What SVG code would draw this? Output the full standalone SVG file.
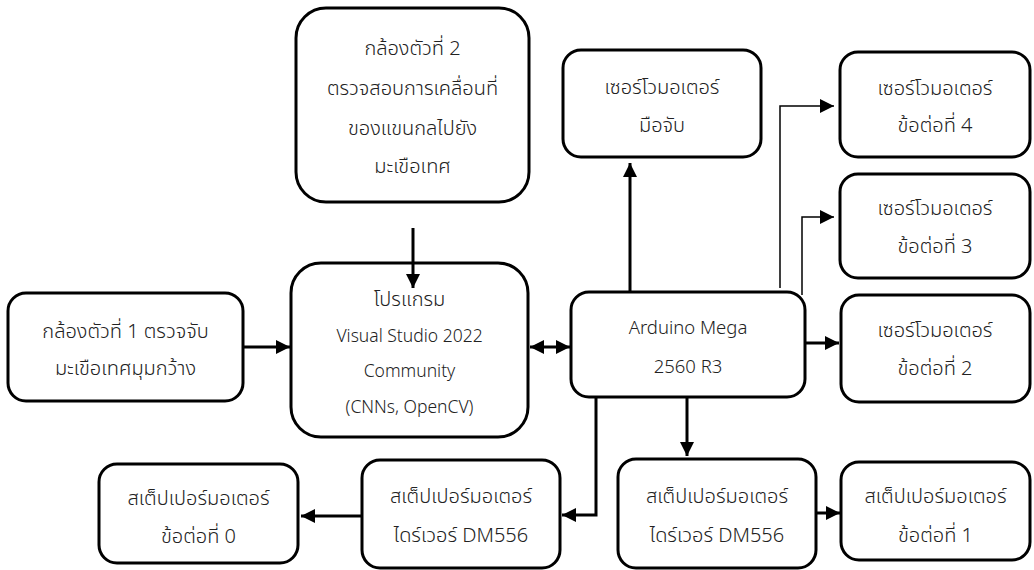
<svg xmlns="http://www.w3.org/2000/svg" width="1034" height="570" viewBox="0 0 1034 570">
<style>
.box{fill:#fff;stroke:#000;stroke-width:3}
.t{font-family:"Noto Sans","Noto Sans Thai","Open Sans",sans-serif;font-size:20px;font-weight:300;fill:#222;text-anchor:middle}
.l{font-size:17.5px}
.c{fill:none;stroke:#000;stroke-width:3}
.thin{fill:none;stroke:#000;stroke-width:1.5}
</style>
<defs>
<marker id="ah" viewBox="0 0 14 14" refX="14" refY="7" markerWidth="14" markerHeight="14" markerUnits="userSpaceOnUse" orient="auto-start-reverse">
<path d="M0,0 L14,7 L0,14 z" fill="#000"/>
</marker>
</defs>
<rect width="1034" height="570" fill="#fff"/>
<g id="camera2">
<rect class="box" x="296" y="8" width="233" height="194" rx="30"/>
<text class="t" x="412.5" y="55">กล้องตัวที่ 2</text>
<text class="t" x="412.5" y="95">ตรวจสอบการเคลื่อนที่</text>
<text class="t" x="412.5" y="135">ของแขนกลไปยัง</text>
<text class="t" x="412.5" y="173">มะเขือเทศ</text>
</g>
<g id="servo-gripper">
<rect class="box" x="563" y="50" width="198" height="107" rx="18"/>
<text class="t" x="662" y="94">เซอร์โวมอเตอร์</text>
<text class="t" x="662" y="132">มือจับ</text>
</g>
<g id="servo4">
<rect class="box" x="840" y="52" width="190" height="105" rx="18"/>
<text class="t" x="935" y="95">เซอร์โวมอเตอร์</text>
<text class="t" x="935" y="132">ข้อต่อที่ 4</text>
</g>
<g id="servo3">
<rect class="box" x="840" y="174" width="190" height="104" rx="18"/>
<text class="t" x="935" y="215">เซอร์โวมอเตอร์</text>
<text class="t" x="935" y="253">ข้อต่อที่ 3</text>
</g>
<g id="servo2">
<rect class="box" x="841" y="295" width="189" height="107" rx="18"/>
<text class="t" x="935" y="337">เซอร์โวมอเตอร์</text>
<text class="t" x="935" y="375">ข้อต่อที่ 2</text>
</g>
<g id="camera1">
<rect class="box" x="8" y="293" width="235" height="108" rx="18"/>
<text class="t" x="125.5" y="338">กล้องตัวที่ 1 ตรวจจับ</text>
<text class="t" x="125.5" y="375">มะเขือเทศมุมกว้าง</text>
</g>
<g id="program">
<rect class="box" x="291" y="263" width="237" height="174" rx="30"/>
<text class="t" x="409.5" y="306">โปรแกรม</text>
<text class="t l" x="409.5" y="342">Visual Studio 2022</text>
<text class="t l" x="409.5" y="377">Community</text>
<text class="t l" x="409.5" y="413">(CNNs, OpenCV)</text>
</g>
<g id="arduino">
<rect class="box" x="571" y="292" width="234" height="105" rx="18"/>
<text class="t l" x="688" y="334" style="font-size:18.5px">Arduino Mega</text>
<text class="t l" x="688" y="373" style="font-size:18.5px">2560 R3</text>
</g>
<g id="driver-left">
<rect class="box" x="362" y="460" width="198" height="108" rx="18"/>
<text class="t" x="461" y="503">สเต็ปเปอร์มอเตอร์</text>
<text class="t" x="461" y="542">ไดร์เวอร์ DM556</text>
</g>
<g id="driver-right">
<rect class="box" x="618" y="459" width="198" height="109" rx="18"/>
<text class="t" x="717" y="503">สเต็ปเปอร์มอเตอร์</text>
<text class="t" x="717" y="542">ไดร์เวอร์ DM556</text>
</g>
<g id="stepper0">
<rect class="box" x="99" y="464" width="199" height="99" rx="18"/>
<text class="t" x="198.5" y="505">สเต็ปเปอร์มอเตอร์</text>
<text class="t" x="198.5" y="543">ข้อต่อที่ 0</text>
</g>
<g id="stepper1">
<rect class="box" x="841" y="462" width="189" height="98" rx="18"/>
<text class="t" x="935.5" y="503">สเต็ปเปอร์มอเตอร์</text>
<text class="t" x="935.5" y="542">ข้อต่อที่ 1</text>
</g>
<g id="connectors">
<path class="c" d="M413,228 V288" marker-end="url(#ah)"/>
<path class="c" d="M243,347 H290" marker-end="url(#ah)"/>
<path class="c" d="M530,347 H570" marker-start="url(#ah)" marker-end="url(#ah)"/>
<path class="c" d="M630,292 V163" marker-end="url(#ah)"/>
<path class="thin" d="M780,288 V106 H834" marker-end="url(#ah)"/>
<path class="thin" d="M802,295 V217 H834" marker-end="url(#ah)"/>
<path class="c" d="M805,343 H839" marker-end="url(#ah)"/>
<path class="c" d="M687,397 V456" marker-end="url(#ah)"/>
<path class="c" d="M596,397 V515 H562" marker-end="url(#ah)"/>
<path class="c" d="M362,516 H301" marker-end="url(#ah)"/>
<path class="c" d="M816,513 H840" marker-end="url(#ah)"/>
</g>
</svg>
